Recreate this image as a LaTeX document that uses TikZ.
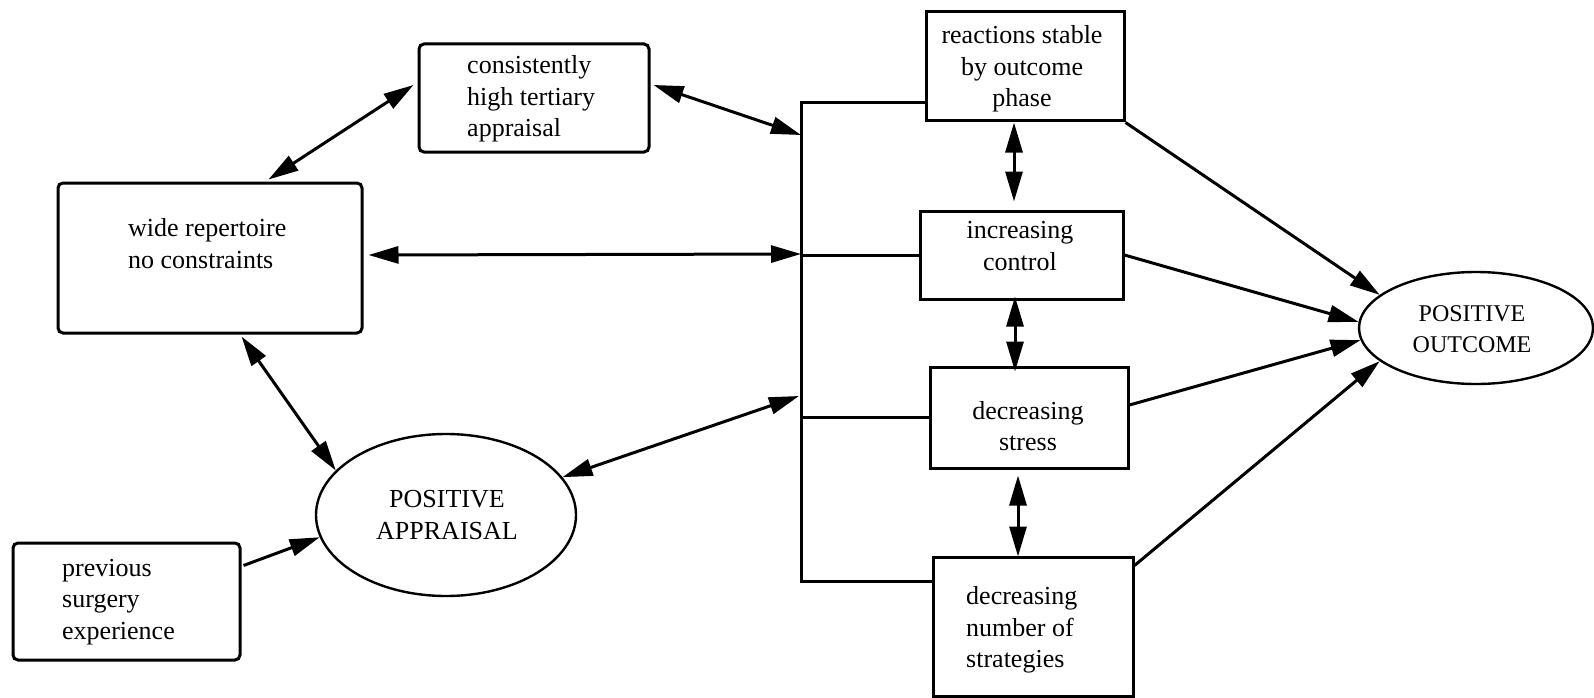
\documentclass[tikz,border=0pt]{standalone}
\usepackage{fontspec}
\setmainfont{Liberation Serif}
\usetikzlibrary{shapes.geometric,arrows.meta,calc}
\begin{document}
\begin{tikzpicture}[x=1pt,y=-1pt,
  box/.style={draw, line width=3pt, inner sep=0pt},
  rbox/.style={box, rounded corners=5pt},
  oval/.style={draw, ellipse, line width=2.4pt, inner sep=0pt},
  txt/.style={inner sep=0pt, font=\fontsize{26}{31.5}\selectfont},
  link/.style={line width=3pt},
  head/.style={-{Triangle[length=30pt,width=17pt]}},
  twohead/.style={{Triangle[length=30pt,width=17pt]}-{Triangle[length=30pt,width=17pt]}},
]
\useasboundingbox (0,0) rectangle (1594,698);

% boxes on the left
\node[rbox, minimum width=230pt, minimum height=108pt] (cons) at (534,98) {};
\node[rbox, minimum width=304pt, minimum height=150pt] (wide) at (210,258) {};
\node[rbox, minimum width=227pt, minimum height=117pt] (prev) at (126.5,601.5) {};
\node[oval, minimum width=260pt, minimum height=162pt] (appr) at (446,515) {};

\node[txt, anchor=west, align=left] (cons-t) at (467,99) {consistently\\high tertiary\\appraisal};
\node[txt, anchor=west, align=left] (wide-t) at (128,243.5) {wide repertoire\\no constraints};
\node[txt, anchor=west, align=left] (prev-t) at (62,602) {previous\\surgery\\experience};
\node[txt, align=center] (appr-t) at (447,515) {POSITIVE\\APPRAISAL};

% column of process boxes
\node[box, minimum width=198pt, minimum height=109pt] (react) at (1025,66.5) {};
\node[box, minimum width=203pt, minimum height=88pt] (incr) at (1021.5,255) {};
\node[box, minimum width=198pt, minimum height=101pt] (stress) at (1029,417.5) {};
\node[box, minimum width=200pt, minimum height=139pt] (strat) at (1033,626.5) {};

\node[txt, align=center] (react-t) at (1022,69) {reactions stable\\by outcome\\phase};
\node[txt, align=center] (incr-t) at (1020,246) {increasing\\control};
\node[txt, align=center] (stress-t) at (1028,426) {decreasing\\stress};
\node[txt, anchor=west, align=left] (strat-t) at (966,630) {decreasing\\number of\\strategies};

% outcome
\node[oval, minimum width=234pt, minimum height=112pt] (out) at (1476,328) {};
\node[txt, align=center, font=\fontsize{24}{31}\selectfont] (out-t) at (1472,329) {POSITIVE\\OUTCOME};

% bracket joining the process boxes
\coordinate (brtop) at (801,103);
\coordinate (brbot) at (801,581);
\coordinate (br1) at (801,135);
\coordinate (br2) at (801,254);
\coordinate (br3) at (799,396);
\draw[link, line join=miter] (react.west |- brtop) -- (brtop) -- (brbot) -- (strat.west |- brbot);
\draw[link] (incr.west) -- (incr.west -| brtop);
\draw[link] (stress.west) -- (stress.west -| brtop);

% two-way links on the left
\draw[link, twohead] ($(wide.north west)+(212,-2)$) -- ($(cons.west)+(-4,-13)$);
\draw[link, twohead] ($(cons.east)+(3,-13)$) -- (br1);
\draw[link, twohead] ($(wide.east)+(5,-3)$) -- (br2);
\draw[link, twohead] ($(wide.south west)+(185,2)$) -- (appr.158);
\draw[link, twohead] (appr.18) -- (br3);
\draw[link, head] ($(prev.east)+(2,-36)$) -- (appr.190);

% two-way links between process boxes
\draw[link, twohead] ($(react.south)+(-11,0)$) -- ($(incr.north)+(-7.5,-8)$);
\draw[link, twohead] ($(incr.south)+(-6.5,-4)$) -- ($(stress.north)+(-14,6)$);
\draw[link, twohead] ($(stress.south)+(-11,6)$) -- ($(strat.north)+(-15,1)$);

% links into the outcome
\draw[link, head] (react.south east) -- (out.161.6);
\draw[link, head] (incr.east) -- (out.177.6);
\draw[link, head] ($(stress.east)+(0,-12.5)$) -- (out.186.8);
\draw[link, head] ($(strat.north east)+(0,10)$) -- (out.199.5);
\end{tikzpicture}
\end{document}
